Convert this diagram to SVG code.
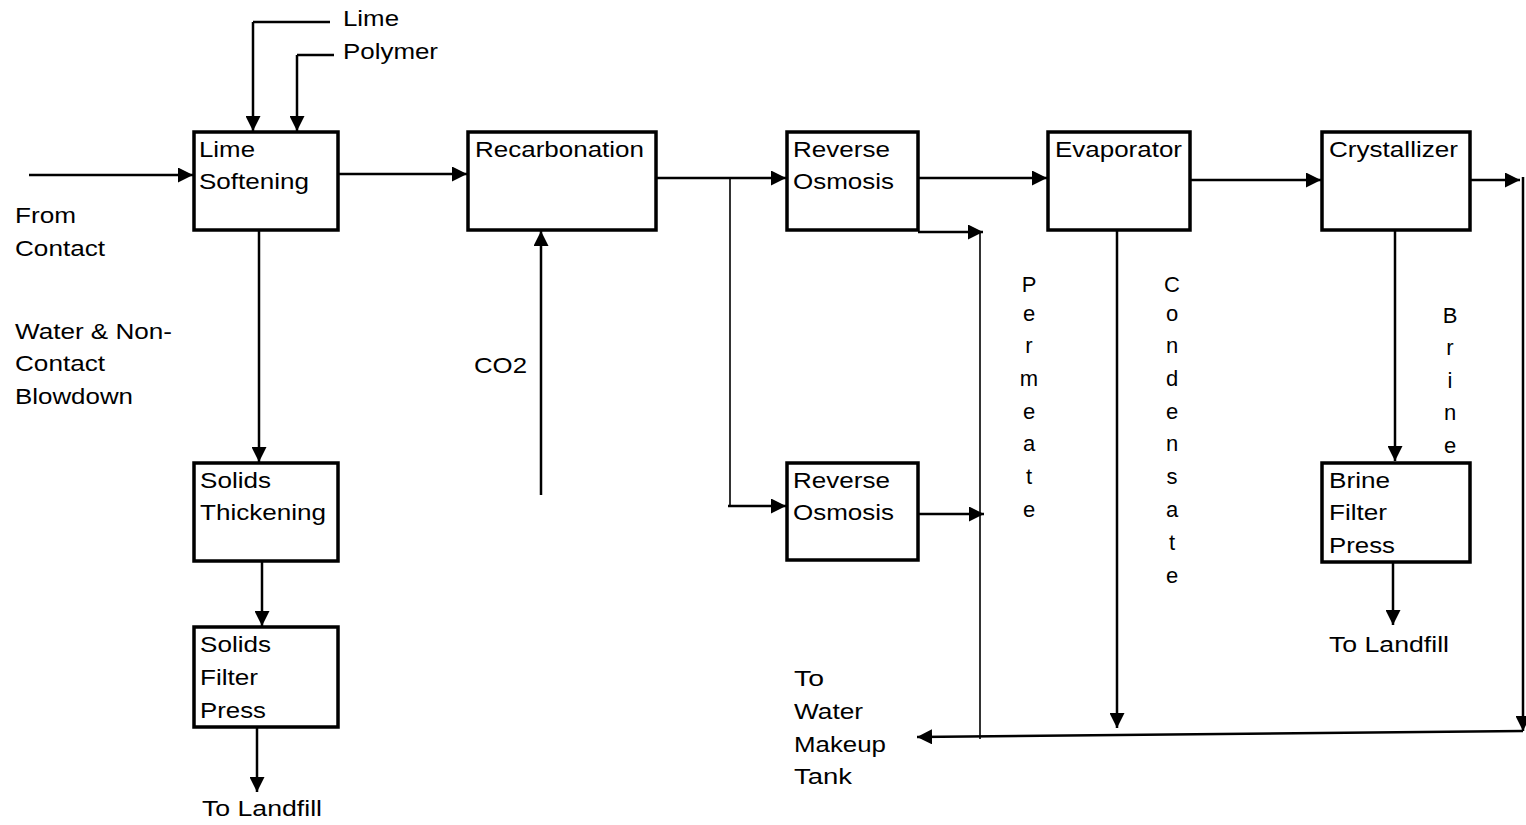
<svg xmlns="http://www.w3.org/2000/svg" width="1526" height="825" viewBox="0 0 1526 825">
<style>
.box{fill:#fff;stroke:#000;stroke-width:3.5}
.ln{fill:none;stroke:#000;stroke-width:2.5}
.thin{fill:none;stroke:#000;stroke-width:1.6}
.t{font-family:"Liberation Sans",Arial,sans-serif;font-size:22px;fill:#000}
.v{font-family:"Liberation Sans",Arial,sans-serif;font-size:22px;fill:#000;text-anchor:middle}
</style>
<defs>
<marker id="ah" markerUnits="userSpaceOnUse" markerWidth="15" markerHeight="15" refX="15" refY="7.5" orient="auto" viewBox="0 0 15 15">
<path d="M0,0 L15,7.5 L0,15 z" fill="#000"/>
</marker>
</defs>
<rect width="1526" height="825" fill="#fff"/>

<g id="connectors">
<path class="ln" d="M253,22 H330" />
<path class="ln" d="M253,22 V131" marker-end="url(#ah)"/>
<path class="ln" d="M297,55 H334" />
<path class="ln" d="M297,55 V131" marker-end="url(#ah)"/>
<path class="ln" d="M29,175 H193" marker-end="url(#ah)"/>
<path class="ln" d="M338,174 H467" marker-end="url(#ah)"/>
<path class="ln" d="M259,230 V462" marker-end="url(#ah)"/>
<path class="ln" d="M262,562 V626" marker-end="url(#ah)"/>
<path class="ln" d="M257,727 V792" marker-end="url(#ah)"/>
<path class="ln" d="M541,495 V231" marker-end="url(#ah)"/>
<path class="ln" d="M656,178 H786" marker-end="url(#ah)"/>
<path class="thin" d="M730,179 V506"/>
<path class="ln" d="M728,506 H786" marker-end="url(#ah)"/>
<path class="ln" d="M918,178 H1047" marker-end="url(#ah)"/>
<path class="ln" d="M918,232 H983" marker-end="url(#ah)"/>
<path class="ln" d="M918,514 H984" marker-end="url(#ah)"/>
<path class="thin" d="M980,232 V739"/>
<path class="ln" d="M1190,180 H1321" marker-end="url(#ah)"/>
<path class="ln" d="M1117,230 V728" marker-end="url(#ah)"/>
<path class="ln" d="M1395,230 V461" marker-end="url(#ah)"/>
<path class="ln" d="M1393,563 V625" marker-end="url(#ah)"/>
<path class="ln" d="M1470,180 H1520" marker-end="url(#ah)"/>
<path class="ln" d="M1523,177 V731" marker-end="url(#ah)"/>
<path class="ln" d="M1523,731 L917,737" marker-end="url(#ah)"/>
</g>

<g id="n-lime-softening">
<rect class="box" x="194" y="132" width="144" height="98"/>
<text class="t" x="199" y="157" textLength="56" lengthAdjust="spacingAndGlyphs">Lime</text>
<text class="t" x="199" y="189" textLength="110" lengthAdjust="spacingAndGlyphs">Softening</text>
</g>
<g id="n-recarbonation">
<rect class="box" x="468" y="132" width="188" height="98"/>
<text class="t" x="475" y="157" textLength="169" lengthAdjust="spacingAndGlyphs">Recarbonation</text>
</g>
<g id="n-ro1">
<rect class="box" x="787" y="132" width="131" height="98"/>
<text class="t" x="793" y="157" textLength="97" lengthAdjust="spacingAndGlyphs">Reverse</text>
<text class="t" x="793" y="189" textLength="101" lengthAdjust="spacingAndGlyphs">Osmosis</text>
</g>
<g id="n-evaporator">
<rect class="box" x="1048" y="132" width="142" height="98"/>
<text class="t" x="1055" y="157" textLength="127" lengthAdjust="spacingAndGlyphs">Evaporator</text>
</g>
<g id="n-crystallizer">
<rect class="box" x="1322" y="132" width="148" height="98"/>
<text class="t" x="1329" y="157" textLength="129" lengthAdjust="spacingAndGlyphs">Crystallizer</text>
</g>
<g id="n-ro2">
<rect class="box" x="787" y="463" width="131" height="97"/>
<text class="t" x="793" y="488" textLength="97" lengthAdjust="spacingAndGlyphs">Reverse</text>
<text class="t" x="793" y="520" textLength="101" lengthAdjust="spacingAndGlyphs">Osmosis</text>
</g>
<g id="n-solids-thickening">
<rect class="box" x="194" y="463" width="144" height="98"/>
<text class="t" x="200" y="488" textLength="71" lengthAdjust="spacingAndGlyphs">Solids</text>
<text class="t" x="200" y="520" textLength="126" lengthAdjust="spacingAndGlyphs">Thickening</text>
</g>
<g id="n-solids-filter-press">
<rect class="box" x="194" y="627" width="144" height="100"/>
<text class="t" x="200" y="652" textLength="71" lengthAdjust="spacingAndGlyphs">Solids</text>
<text class="t" x="200" y="685" textLength="58" lengthAdjust="spacingAndGlyphs">Filter</text>
<text class="t" x="200" y="718" textLength="66" lengthAdjust="spacingAndGlyphs">Press</text>
</g>
<g id="n-brine-filter-press">
<rect class="box" x="1322" y="463" width="148" height="99"/>
<text class="t" x="1329" y="488" textLength="61" lengthAdjust="spacingAndGlyphs">Brine</text>
<text class="t" x="1329" y="520" textLength="58" lengthAdjust="spacingAndGlyphs">Filter</text>
<text class="t" x="1329" y="553" textLength="66" lengthAdjust="spacingAndGlyphs">Press</text>
</g>

<g id="labels">
<text class="t" x="343" y="26" textLength="56" lengthAdjust="spacingAndGlyphs">Lime</text>
<text class="t" x="343" y="59" textLength="95" lengthAdjust="spacingAndGlyphs">Polymer</text>
<text class="t" x="15" y="223" textLength="61" lengthAdjust="spacingAndGlyphs">From</text>
<text class="t" x="15" y="256" textLength="90" lengthAdjust="spacingAndGlyphs">Contact</text>
<text class="t" x="15" y="339" textLength="157" lengthAdjust="spacingAndGlyphs">Water &amp; Non-</text>
<text class="t" x="15" y="371" textLength="90" lengthAdjust="spacingAndGlyphs">Contact</text>
<text class="t" x="15" y="404" textLength="118" lengthAdjust="spacingAndGlyphs">Blowdown</text>
<text class="t" x="474" y="373" textLength="53" lengthAdjust="spacingAndGlyphs">CO2</text>
<text class="t" x="202" y="816" textLength="120" lengthAdjust="spacingAndGlyphs">To Landfill</text>
<text class="t" x="1329" y="652" textLength="120" lengthAdjust="spacingAndGlyphs">To Landfill</text>
<text class="t" x="794" y="686" textLength="30" lengthAdjust="spacingAndGlyphs">To</text>
<text class="t" x="794" y="719" textLength="69" lengthAdjust="spacingAndGlyphs">Water</text>
<text class="t" x="794" y="752" textLength="92" lengthAdjust="spacingAndGlyphs">Makeup</text>
<text class="t" x="794" y="784" textLength="58" lengthAdjust="spacingAndGlyphs">Tank</text>
<text class="v" x="1029" y="292">P</text>
<text class="v" x="1029" y="321">e</text>
<text class="v" x="1029" y="353">r</text>
<text class="v" x="1029" y="386">m</text>
<text class="v" x="1029" y="419">e</text>
<text class="v" x="1029" y="451">a</text>
<text class="v" x="1029" y="484">t</text>
<text class="v" x="1029" y="517">e</text>
<text class="v" x="1172" y="292">C</text>
<text class="v" x="1172" y="321">o</text>
<text class="v" x="1172" y="353">n</text>
<text class="v" x="1172" y="386">d</text>
<text class="v" x="1172" y="419">e</text>
<text class="v" x="1172" y="451">n</text>
<text class="v" x="1172" y="484">s</text>
<text class="v" x="1172" y="517">a</text>
<text class="v" x="1172" y="550">t</text>
<text class="v" x="1172" y="583">e</text>
<text class="v" x="1450" y="323">B</text>
<text class="v" x="1450" y="355">r</text>
<text class="v" x="1450" y="388">i</text>
<text class="v" x="1450" y="420">n</text>
<text class="v" x="1450" y="453">e</text>
</g>
</svg>
